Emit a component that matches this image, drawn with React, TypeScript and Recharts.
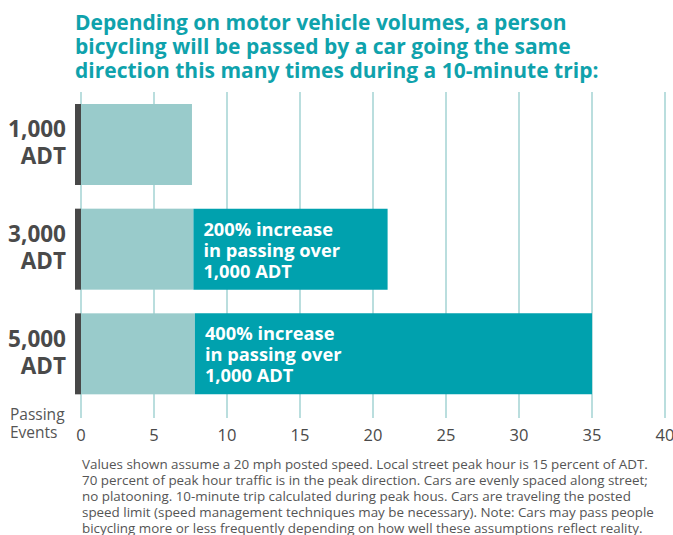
import React from "react";
import { BarChart, Bar, XAxis, YAxis, CartesianGrid, LabelList } from "recharts";

const categories = ["1,000 ADT", "3,000 ADT", "5,000 ADT"];
const baseValues = [7.6, 7.7, 7.8];
const increaseValues = [0, 13.3, 27.2];
const barNotes = [
  [],
  ["200% increase", "in passing over", "1,000 ADT"],
  ["400% increase", "in passing over", "1,000 ADT"],
];
const xTicks = [0, 5, 10, 15, 20, 25, 30, 35, 40];
const titleLines = [
  "Depending on motor vehicle volumes, a person",
  "bicycling will be passed by a car going the same",
  "direction this many times during a 10-minute trip:",
];
const footnoteLines = [
  "Values shown assume a 20 mph posted speed. Local street peak hour is 15 percent of ADT.",
  "70 percent of peak hour traffic is in the peak direction. Cars are evenly spaced along street;",
  "no platooning. 10-minute trip calculated during peak hous. Cars are traveling the posted",
  "speed limit (speed management techniques may be necessary). Note: Cars may pass people",
  "bicycling more or less frequently depending on how well these assumptions reflect reality.",
];
const axisTitleLines = ["Passing", "Events"];

const data = categories.map((name, i) => ({
  name,
  base: baseValues[i],
  increase: increaseValues[i],
  note: barNotes[i],
}));

const FONT = "'Open Sans', 'Noto Sans', sans-serif";
const LIGHT = "#99cbcb";
const DARK = "#00a1ae";
const GRID = "#a9d6d6";
const TEXT = "#4a4a4a";

const BaseShape = (props: any) => {
  const { x, y, width, height } = props;
  return (
    <g>
      <rect x={x - 6} y={y} width={6} height={height} fill="#484848" />
      <rect x={x} y={y} width={width} height={height} fill={LIGHT} />
    </g>
  );
};

const CategoryTick = (props: any) => {
  const { y, payload } = props;
  const parts = String(payload.value).split(" ");
  return (
    <g>
      <text x={66} y={y - 7} textAnchor="end" fill={TEXT} fontFamily={FONT} fontWeight={700} fontSize={22.5}>
        {parts[0]}
      </text>
      <text x={66} y={y + 20} textAnchor="end" fill={TEXT} fontFamily={FONT} fontWeight={700} fontSize={22.5}>
        {parts[1]}
      </text>
    </g>
  );
};

const ValueTick = (props: any) => {
  const { x, payload } = props;
  return (
    <text x={x} y={441} textAnchor="middle" fill={TEXT} fontFamily={FONT} fontSize={16.5}>
      {payload.value}
    </text>
  );
};

const NoteLabel = (props: any) => {
  const { x, y, value } = props;
  const lines: string[] = value || [];
  return (
    <g>
      {lines.map((ln, i) => (
        <text
          key={i}
          x={x + 10}
          y={y + 27 + i * 21}
          fill="#ffffff"
          fontFamily={FONT}
          fontWeight={700}
          fontSize={18.3}
        >
          {ln}
        </text>
      ))}
    </g>
  );
};

export default function App() {
  return (
    <div style={{ position: "absolute", left: 0, top: 0, width: 673, height: 535, background: "#fff", fontFamily: FONT }}>
      <div
        style={{
          position: "absolute",
          left: 75,
          top: 10,
          color: "#0fa2ac",
          fontWeight: 700,
          fontSize: 21,
          lineHeight: "24px",
          whiteSpace: "nowrap",
        }}
      >
        {titleLines.map((t, i) => (
          <div key={i}>{t}</div>
        ))}
      </div>
      <BarChart
        width={673}
        height={535}
        data={data}
        layout="vertical"
        margin={{ top: 92, right: 8, bottom: 0, left: 0 }}
      >
        <CartesianGrid horizontal={false} vertical={true} stroke={GRID} strokeWidth={1.6} />
        <XAxis
          type="number"
          domain={[0, 40]}
          ticks={xTicks}
          axisLine={false}
          tickLine={{ stroke: GRID, strokeWidth: 1.6 }}
          tickSize={12}
          tick={<ValueTick />}
          height={129}
          interval={0}
        />
        <YAxis type="category" dataKey="name" width={81} axisLine={false} tickLine={false} tick={<CategoryTick />} />
        <Bar dataKey="base" stackId="a" barSize={81} fill={LIGHT} shape={<BaseShape />} isAnimationActive={false} />
        <Bar dataKey="increase" stackId="a" barSize={81} fill={DARK} isAnimationActive={false}>
          <LabelList dataKey="note" content={<NoteLabel />} />
        </Bar>
      </BarChart>
      <div
        style={{
          position: "absolute",
          left: 10,
          top: 406,
          color: "#555",
          fontSize: 15.5,
          lineHeight: "17.5px",
          whiteSpace: "nowrap",
        }}
      >
        {axisTitleLines.map((t, i) => (
          <div key={i}>{t}</div>
        ))}
      </div>
      <div
        style={{
          position: "absolute",
          left: 82,
          top: 455.5,
          color: "#555",
          fontSize: 13.4,
          lineHeight: "16px",
          whiteSpace: "nowrap",
        }}
      >
        {footnoteLines.map((t, i) => (
          <div key={i}>{t}</div>
        ))}
      </div>
    </div>
  );
}
